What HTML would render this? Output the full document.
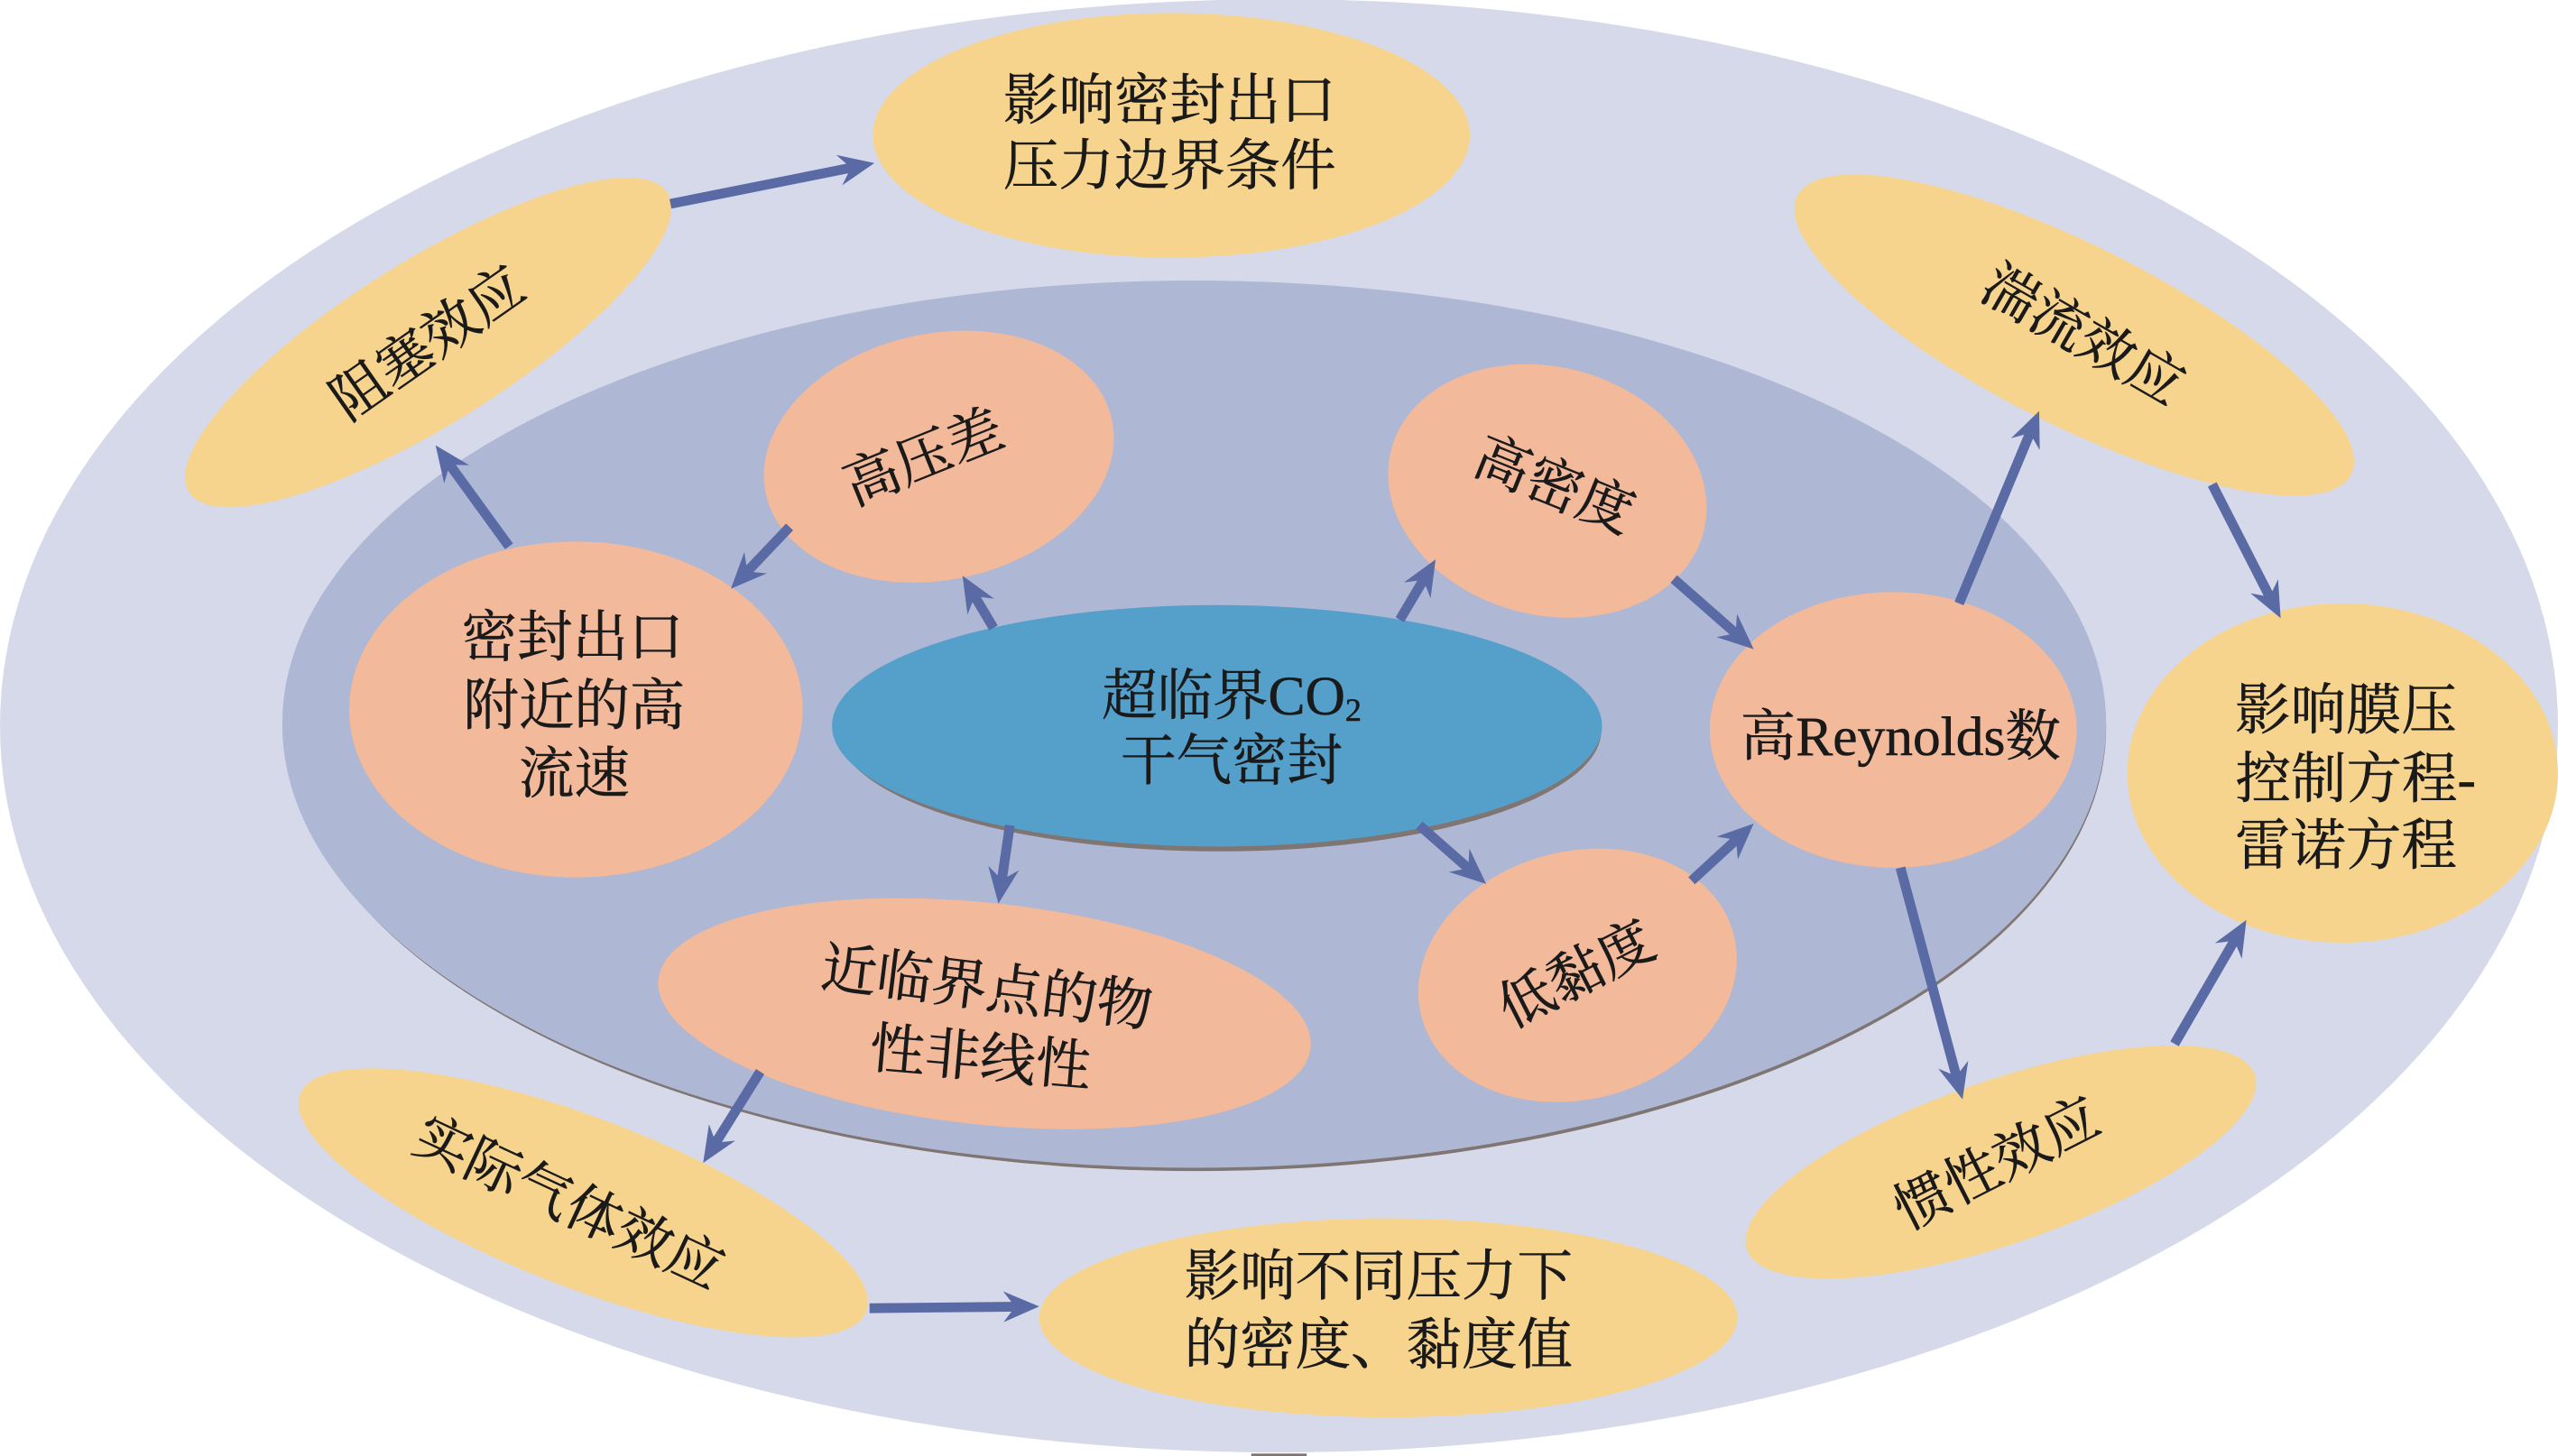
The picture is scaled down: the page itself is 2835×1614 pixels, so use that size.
<!DOCTYPE html>
<html lang="zh">
<head>
<meta charset="utf-8">
<title>超临界CO2干气密封</title>
<style>
html,body{margin:0;padding:0;background:#fff;}
svg{display:block;}
text{font-family:"Liberation Serif","Noto Serif CJK SC",serif;font-size:34px;fill:#1a1a1a;stroke:#1a1a1a;stroke-width:0.3px;text-anchor:middle;}
.a{fill:#5a6aa5;}
</style>
</head>
<body>
<svg xmlns="http://www.w3.org/2000/svg" width="2835" height="1614" viewBox="0 0 1568 892.7">
<rect x="767" y="891.2" width="34" height="1.5" fill="#7f7572"/>
<ellipse cx="784" cy="445" rx="784" ry="445.5" fill="#d5d9e9"/>
<ellipse cx="733" cy="446" rx="558" ry="272" fill="#7f7572"/>
<ellipse cx="732" cy="444" rx="559" ry="272" fill="#aeb7d4"/>
<ellipse cx="747.500" cy="448" rx="234" ry="74" fill="#7f7572"/>
<ellipse cx="746" cy="445" rx="236" ry="74" fill="#55a0cb"/>

<g fill="#f7d48e">
<ellipse cx="718" cy="83" rx="183" ry="75"/>
<ellipse cx="262.500" cy="210" rx="173" ry="50" transform="rotate(-32 262.500 210)"/>
<ellipse cx="1271.500" cy="205.500" rx="190" ry="55" transform="rotate(26.700 1271.500 205.500)"/>
<ellipse cx="1436" cy="474" rx="132" ry="104"/>
<ellipse cx="1226.500" cy="712.500" rx="164.600" ry="50" transform="rotate(-19 1226.500 712.500)"/>
<ellipse cx="851" cy="808" rx="214" ry="61"/>
<ellipse cx="357.500" cy="737.500" rx="185.900" ry="52" transform="rotate(21 357.500 737.500)"/>
</g>
<g fill="#f2b99b">
<ellipse cx="575.500" cy="280" rx="108.500" ry="75.500" transform="rotate(-12 575.500 280)"/>
<ellipse cx="948.500" cy="301" rx="99" ry="76" transform="rotate(15 948.500 301)"/>
<ellipse cx="353" cy="435" rx="139" ry="103"/>
<ellipse cx="1160.500" cy="447.500" rx="112.500" ry="84.500"/>
<ellipse cx="967" cy="598" rx="99" ry="76" transform="rotate(-15 967 598)"/>
<ellipse cx="603.500" cy="621.500" rx="201" ry="68" transform="rotate(6 603.500 621.500)"/>
</g>

<g class="a">
<path transform="translate(536,100) rotate(-11.3)" d="M0 0L-22-9.500-17-3-127.500-3-127.500 3-17 3-22 9.500Z"/>
<path transform="translate(267,273) rotate(-126)" d="M0 0L-22-9.500-17-3-76.600-3-76.600 3-17 3-22 9.500Z"/>
<path transform="translate(448,361) rotate(133.5)" d="M0 0L-22-9.500-17-3-52.300-3-52.300 3-17 3-22 9.500Z"/>
<path transform="translate(590,353) rotate(-120.7)" d="M0 0L-22-9.500-17-3-37.200-3-37.200 3-17 3-22 9.500Z"/>
<path transform="translate(880,343) rotate(-59.3)" d="M0 0L-22-9.500-17-3-43-3-43 3-17 3-22 9.500Z"/>
<path transform="translate(1075,398) rotate(41.3)" d="M0 0L-22-9.500-17-3-65.200-3-65.200 3-17 3-22 9.500Z"/>
<path transform="translate(1250,252) rotate(-67.4)" d="M0 0L-22-9.500-17-3-127.800-3-127.800 3-17 3-22 9.500Z"/>
<path transform="translate(1398,379) rotate(62.9)" d="M0 0L-22-9.500-17-3-92.100-3-92.100 3-17 3-22 9.500Z"/>
<path transform="translate(1377,564) rotate(-59.9)" d="M0 0L-22-9.500-17-3-87.800-3-87.800 3-17 3-22 9.500Z"/>
<path transform="translate(1203,674) rotate(75)" d="M0 0L-22-9.500-17-3-147-3-147 3-17 3-22 9.500Z"/>
<path transform="translate(1075,505) rotate(-42.6)" d="M0 0L-22-9.500-17-3-51.700-3-51.700 3-17 3-22 9.500Z"/>
<path transform="translate(911,542) rotate(41.3)" d="M0 0L-22-9.500-17-3-54.600-3-54.600 3-17 3-22 9.500Z"/>
<path transform="translate(612,554) rotate(98.3)" d="M0 0L-22-9.500-17-3-48.500-3-48.500 3-17 3-22 9.500Z"/>
<path transform="translate(431,713) rotate(122)" d="M0 0L-22-9.500-17-3-66-3-66 3-17 3-22 9.500Z"/>
<path transform="translate(637,801) rotate(-0.6)" d="M0 0L-22-9.500-17-3-104-3-104 3-17 3-22 9.500Z"/>
</g>

<text x="717" y="73">影响密封出口</text>
<text x="717" y="113">压力边界条件</text>
<text transform="translate(262,210) rotate(-35)" y="12">阻塞效应</text>
<text transform="translate(1277,205) rotate(30)" y="12">湍流效应</text>
<text transform="translate(1224,713) rotate(-27)" y="12">惯性效应</text>
<text transform="translate(349,737) rotate(25)" y="12">实际气体效应</text>
<text transform="translate(566,280) rotate(-22)" y="12">高压差</text>
<text transform="translate(953,297) rotate(22)" y="12">高密度</text>
<text transform="translate(966,597) rotate(-27)" y="12">低黏度</text>
<text transform="translate(605,605) rotate(7)" y="12">近临界点的物</text>
<text transform="translate(601,648) rotate(5)" y="12">性非线性</text>
<text x="755" y="438">超临界CO<tspan font-size="20" dy="4">2</tspan></text>
<text x="755" y="478">干气密封</text>
<text x="351" y="402">密封出口</text>
<text x="352" y="444">附近的高</text>
<text x="352" y="486">流速</text>
<text x="1165" y="463">高Reynolds数</text>
<text x="1438" y="447">影响膜压</text>
<text x="1444" y="489">控制方程-</text>
<text x="1438" y="530">雷诺方程</text>
<text x="845" y="794">影响不同压力下</text>
<text x="845" y="836">的密度、黏度值</text>
</svg>
</body>
</html>
